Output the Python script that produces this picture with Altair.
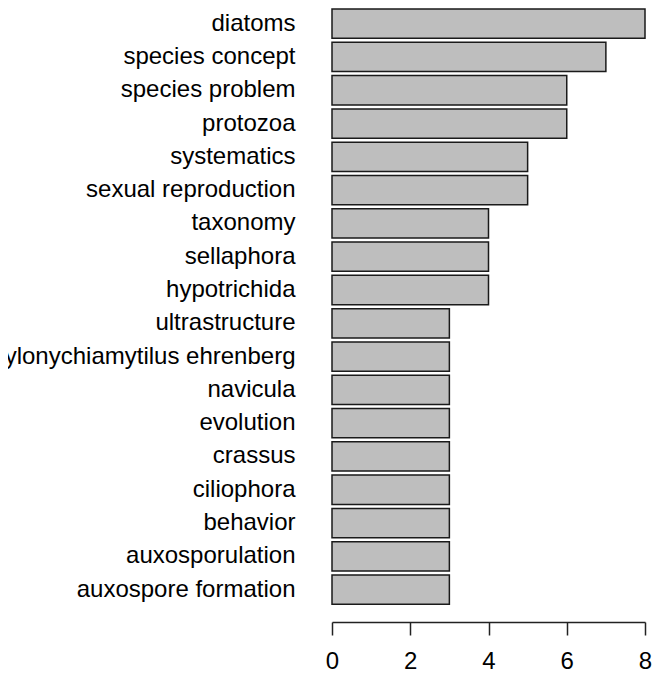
import altair as alt
import pandas as pd

categories = [
    "diatoms", "species concept", "species problem", "protozoa", "systematics",
    "sexual reproduction", "taxonomy", "sellaphora", "hypotrichida", "ultrastructure",
    "stylonychiamytilus ehrenberg", "navicula", "evolution", "crassus", "ciliophora",
    "behavior", "auxosporulation", "auxospore formation",
]
counts = [8, 7, 6, 6, 5, 5, 4, 4, 4, 3, 3, 3, 3, 3, 3, 3, 3, 3]
x_ticks = [0, 2, 4, 6, 8]

df = pd.DataFrame({"term": categories, "count": counts})

FONT = "Liberation Sans"

chart = (
    alt.Chart(df)
    .mark_bar(fill="#BEBEBE", stroke="#1a1a1a", strokeWidth=1.5)
    .encode(
        x=alt.X(
            "count:Q",
            scale=alt.Scale(domain=[0, 8], nice=False, zero=True),
            axis=alt.Axis(
                values=x_ticks,
                title=None,
                grid=False,
                domainColor="#222222",
                domainWidth=1.5,
                tickColor="#222222",
                tickWidth=1.5,
                tickSize=13,
                labelFont=FONT,
                labelFontSize=24,
                labelColor="#000000",
                labelPadding=14,
                labelFlush=False,
            ),
        ),
        y=alt.Y(
            "term:N",
            sort=categories,
            scale=alt.Scale(range=[1, 596.3], paddingInner=0.12, paddingOuter=0),
            axis=alt.Axis(
                title=None,
                domain=False,
                ticks=False,
                grid=False,
                labelFont=FONT,
                labelFontSize=24,
                labelColor="#000000",
                labelPadding=37,
                labelLimit=600,
            ),
        ),
    )
    .properties(
        width=313,
        height=614,
        autosize=alt.AutoSizeParams(type="none"),
        padding={"left": 324, "right": 10, "top": 0, "bottom": 55},
    )
    .configure_view(stroke=None)
)

chart.save("out.html", embed_options={"renderer": "svg", "actions": False})
